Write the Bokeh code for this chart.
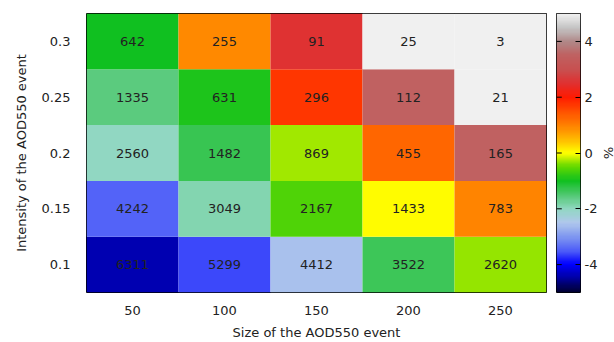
import numpy as np
from bokeh.plotting import figure
from bokeh.layouts import row
from bokeh.models import ColumnDataSource, LinearColorMapper, FixedTicker, Range1d, Title
from bokeh.core.properties import value
from bokeh.embed import file_html
from bokeh.resources import INLINE

# Event size (x) and intensity (y) classes
sizes = ["50", "100", "150", "200", "250"]
intensities = ["0.1", "0.15", "0.2", "0.25", "0.3"]

# Number of events per class, one row per intensity (0.1 ... 0.3)
counts_01 = [6311, 5299, 4412, 3522, 2620]
counts_015 = [4242, 3049, 2167, 1433, 783]
counts_02 = [2560, 1482, 869, 455, 165]
counts_025 = [1335, 631, 296, 112, 21]
counts_03 = [642, 255, 91, 25, 3]

# Percentage shown by the cell colour, same layout
pct_01 = [-4.4, -3.6, -2.55, -1.35, -0.35]
pct_015 = [-3.45, -1.9, -0.6, 0.0, 0.95]
pct_02 = [-2.0, -1.3, -0.3, 1.25, 3.5]
pct_025 = [-1.6, -0.9, 1.75, 3.5, 5.0]
pct_03 = [-1.0, 0.9, 2.5, 5.0, 5.0]

cb_ticks = [-4, -2, 0, 2, 4]
cb_tick_labels = ["-4", "-2", "0", "2", "4"]

counts = [counts_01, counts_015, counts_02, counts_025, counts_03]
pcts = [pct_01, pct_015, pct_02, pct_025, pct_03]

# Colour scale stops (value, colour)
stops = [(-5.0, "#000030"), (-4.5, "#0000a0"), (-4.0, "#0000ff"), (-3.5, "#5060f8"),
         (-3.0, "#8098f0"), (-2.5, "#b0c8ec"), (-2.0, "#90d8c0"), (-1.5, "#50c870"),
         (-1.0, "#10c020"), (-0.5, "#60d800"), (0.0, "#ffff00"), (0.5, "#ffb800"),
         (1.0, "#ff8000"), (1.5, "#ff5000"), (2.0, "#ff1a00"), (2.5, "#e03030"),
         (3.0, "#c85050"), (3.5, "#c06060"), (4.0, "#b08888"), (4.5, "#c4c4c4"),
         (5.0, "#f0f0f0")]


def hex_to_rgb(h):
    return [int(h[i:i + 2], 16) for i in (1, 3, 5)]


sv = np.array([s[0] for s in stops])
sc = np.array([hex_to_rgb(s[1]) for s in stops], dtype=float)
grid = np.linspace(-5, 5, 256)
palette = []
for g in grid:
    r, gg, b = (np.interp(g, sv, sc[:, k]) for k in range(3))
    palette.append("#%02x%02x%02x" % (int(round(r)), int(round(gg)), int(round(b))))

mapper = LinearColorMapper(palette=palette, low=-5, high=5,
                           low_color=palette[0], high_color=palette[-1])

xs, ys, vals, labels = [], [], [], []
for yi, yname in enumerate(intensities):
    for xi, xname in enumerate(sizes):
        xs.append(xname)
        ys.append(yname)
        vals.append(pcts[yi][xi])
        labels.append(str(counts[yi][xi]))
src = ColumnDataSource(dict(x=xs, y=ys, v=vals, t=labels))

FONT = "DejaVu Sans"
TXT = "#222222"

p = figure(x_range=sizes, y_range=intensities, frame_width=460, frame_height=279,
           min_border_left=86, min_border_right=5, min_border_top=13, min_border_bottom=50,
           output_backend="svg", toolbar_location=None)
p.rect(x="x", y="y", width=1, height=1, source=src,
       fill_color={"field": "v", "transform": mapper}, line_color=None)
p.text(x="x", y="y", text="t", source=src, text_align="center", text_baseline="middle",
       text_font=value(FONT), text_font_size="13px", text_color=TXT)

p.grid.visible = False
p.outline_line_color = "black"
p.outline_line_width = 1
for ax in (p.xaxis[0], p.yaxis[0]):
    ax.axis_line_color = None
    ax.major_tick_line_color = None
    ax.minor_tick_line_color = None
    ax.major_label_text_font = FONT
    ax.major_label_text_font_size = "13px"
    ax.major_label_text_color = TXT
    ax.axis_label_text_font = FONT
    ax.axis_label_text_font_size = "13px"
    ax.axis_label_text_font_style = "normal"
    ax.axis_label_text_color = TXT
p.xaxis.axis_label = "Size of the AOD550 event"
p.yaxis.axis_label = "Intensity of the AOD550 event"
p.xaxis.major_label_standoff = 7
p.xaxis.axis_label_standoff = 7
p.yaxis.major_label_standoff = 10
p.yaxis.axis_label_standoff = 10

# Colour bar drawn as its own narrow panel
cb = figure(x_range=Range1d(0, 1), y_range=Range1d(-5, 5), frame_width=24, frame_height=279,
            min_border_left=5, min_border_right=0, min_border_top=13, min_border_bottom=50,
            x_axis_location=None, y_axis_location="right",
            output_backend="svg", toolbar_location=None)
cb.image(image=[grid.reshape(-1, 1)], x=0, y=-5, dw=1, dh=10, color_mapper=mapper)
# inward tick marks on the left edge of the bar
cb.segment(x0=[0] * len(cb_ticks), y0=cb_ticks, x1=[0.22] * len(cb_ticks), y1=cb_ticks,
           line_color="black", line_width=1)
cb.grid.visible = False
cb.outline_line_color = "black"
ra = cb.yaxis[0]
ra.ticker = FixedTicker(ticks=cb_ticks)
ra.major_label_overrides = dict(zip(cb_ticks, cb_tick_labels))
ra.minor_tick_line_color = None
ra.axis_line_color = None
ra.major_tick_in = 5
ra.major_tick_out = 0
ra.major_tick_line_color = "black"
ra.major_label_standoff = 4
ra.major_label_text_font = FONT
ra.major_label_text_font_size = "13px"
ra.major_label_text_color = TXT

# unit label of the colour scale, set vertically beside the tick labels
cb.add_layout(Title(text="%", align="center", text_font=FONT, text_font_size="13px",
                    text_font_style="normal", text_color=TXT, standoff=0, offset=0,
                    text_line_height=1.0), "right")

layout = row(p, cb)
open("out.html", "w").write(file_html(layout, INLINE))
